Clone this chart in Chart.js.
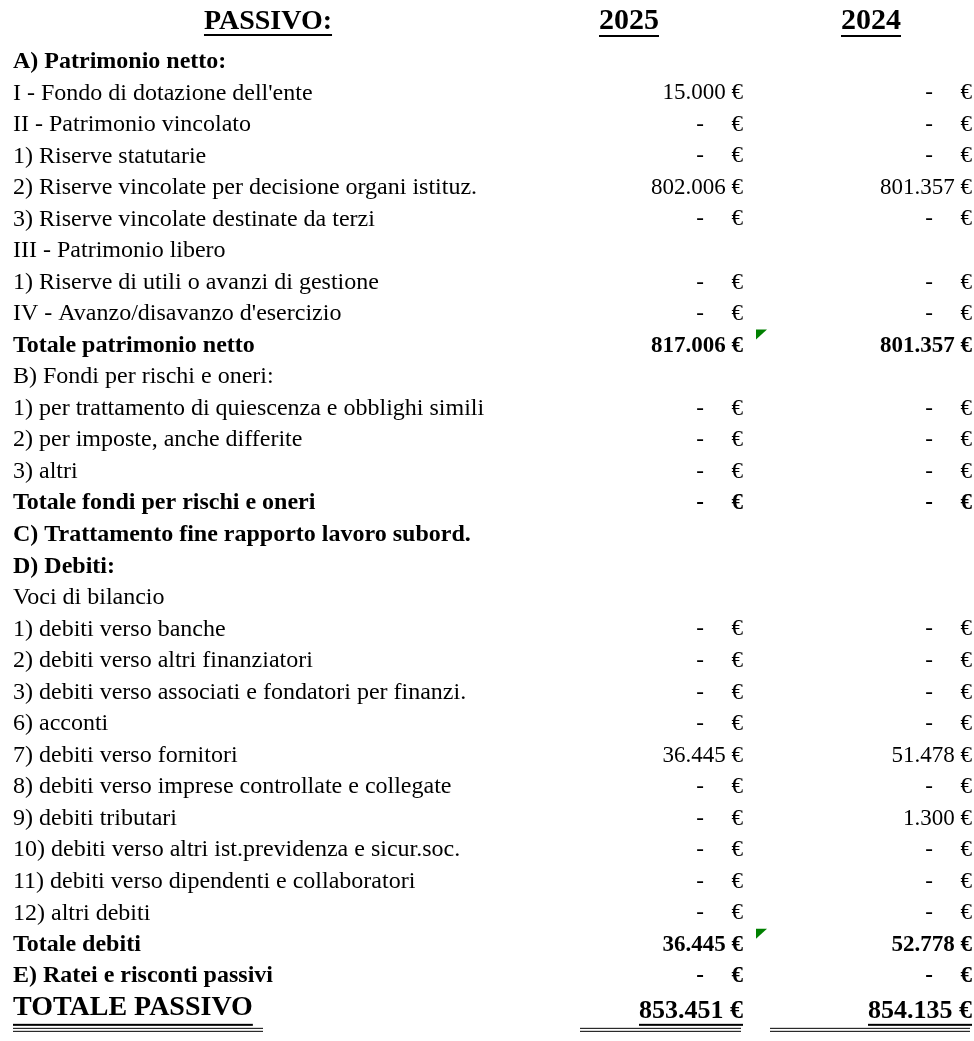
<!DOCTYPE html>
<html>
<head>
<meta charset="utf-8">
<script src="https://cdn.jsdelivr.net/npm/chart.js@4.4.0/dist/chart.umd.min.js"></script>
<style>
    html, body { margin: 0; padding: 0; background: #ffffff; }
    canvas { display: block; }
</style>
</head>
<body>
<canvas id="passivoChart" width="974" height="1041"></canvas>
<script>
var sheetTitle = 'PASSIVO:';
var years = ['2025', '2024'];

var rowLabels = [
    'A) Patrimonio netto:',
    'I - Fondo di dotazione dell\'ente',
    'II - Patrimonio vincolato',
    '1) Riserve statutarie',
    '2) Riserve vincolate per decisione organi istituz.',
    '3) Riserve vincolate destinate da terzi',
    'III - Patrimonio libero',
    '1) Riserve di utili o avanzi di gestione',
    'IV - Avanzo/disavanzo d\'esercizio',
    'Totale patrimonio netto',
    'B) Fondi per rischi e oneri:',
    '1) per trattamento di quiescenza e obblighi simili',
    '2) per imposte, anche differite',
    '3) altri',
    'Totale fondi per rischi e oneri',
    'C) Trattamento fine rapporto lavoro subord.',
    'D) Debiti:',
    'Voci di bilancio',
    '1) debiti verso banche',
    '2) debiti verso altri finanziatori',
    '3) debiti verso associati e fondatori per finanzi.',
    '6) acconti',
    '7) debiti verso fornitori',
    '8) debiti verso imprese controllate e collegate',
    '9) debiti tributari',
    '10) debiti verso altri ist.previdenza e sicur.soc.',
    '11) debiti verso dipendenti e collaboratori',
    '12) altri debiti',
    'Totale debiti',
    'E) Ratei e risconti passivi',
    'TOTALE PASSIVO'
];

// null = empty cell, 0 = "-  €"
var values2025 = [null, 15000, 0, 0, 802006, 0, null, 0, 0, 817006,
    null, 0, 0, 0, 0, null, null, null,
    0, 0, 0, 0, 36445, 0, 0, 0, 0, 0, 36445, 0, 853451];
var values2024 = [null, 0, 0, 0, 801357, 0, null, 0, 0, 801357,
    null, 0, 0, 0, 0, null, null, null,
    0, 0, 0, 0, 51478, 0, 1300, 0, 0, 0, 52778, 0, 854135];

var boldRows = ['A) Patrimonio netto:', 'Totale patrimonio netto', 'Totale fondi per rischi e oneri',
    'C) Trattamento fine rapporto lavoro subord.', 'D) Debiti:', 'Totale debiti',
    'E) Ratei e risconti passivi', 'TOTALE PASSIVO'];
var commentRows = ['Totale patrimonio netto', 'Totale debiti'];
var grandTotalRow = 'TOTALE PASSIVO';

var FONT = "'Liberation Serif', 'Times New Roman', serif";
var valueRight = [114, 101];   // right edge of the value cells, from the column anchor
var dashOffset = 43;

function formatEuro(v) {
    return String(v).replace(/\B(?=(\d{3})+(?!\d))/g, '.') + ' \u20AC';
}

function valueFont(label) {
    if (label === grandTotalRow) return 'bold 26px ' + FONT;
    return (boldRows.includes(label) ? 'bold ' : '') + '23px ' + FONT;
}

function buildPoints(values, year) {
    var points = [];
    for (var i = 0; i < values.length; i++) {
        if (values[i] !== null) {
            points.push({ x: year, y: rowLabels[i], v: values[i] });
        }
    }
    return points;
}

function underline(ctx, x1, x2, y, w) {
    ctx.fillRect(x1, y, x2 - x1, w);
}

// Draws the cell texts, the underlines and the comment markers
var cellsPlugin = {
    id: 'cells',
    afterDraw: function(chart) {
        var ctx = chart.ctx;
        var xScale = chart.scales.x;
        var yScale = chart.scales.y;
        ctx.save();
        ctx.fillStyle = '#000000';

        // sheet title
        ctx.font = 'bold 28px ' + FONT;
        ctx.textAlign = 'center';
        ctx.textBaseline = 'middle';
        ctx.fillText(sheetTitle, 268, 22);
        var tw = ctx.measureText(sheetTitle).width;
        underline(ctx, 268 - tw / 2, 268 + tw / 2, 34, 2);

        // year headers underline
        ctx.font = 'bold 30px ' + FONT;
        years.forEach(function(y, i) {
            var px = xScale.getPixelForValue(i);
            var w = ctx.measureText(y).width;
            underline(ctx, px - w / 2, px + w / 2, 35, 2);
        });

        chart.data.datasets.forEach(function(ds, d) {
            var meta = chart.getDatasetMeta(d);
            meta.data.forEach(function(pt, i) {
                var raw = ds.data[i];
                var right = pt.x + valueRight[d];
                var isGrand = raw.y === grandTotalRow;
                var cy = isGrand ? pt.y + 3 : pt.y;
                ctx.font = valueFont(raw.y);
                ctx.textBaseline = 'middle';
                if (raw.v === 0) {
                    ctx.textAlign = 'right';
                    ctx.fillText('\u20AC', right, cy);
                    ctx.textAlign = 'center';
                    ctx.fillText('-', right - dashOffset, cy);
                } else {
                    ctx.textAlign = 'right';
                    var txt = formatEuro(raw.v);
                    ctx.fillText(txt, right, cy);
                    if (isGrand) {
                        var w = ctx.measureText(txt).width;
                        underline(ctx, right - w, right, cy + 13, 2);
                    }
                }
                if (d === 0 && commentRows.includes(raw.y)) {
                    var top = pt.y - 16;
                    ctx.fillStyle = '#008000';
                    ctx.beginPath();
                    ctx.moveTo(right + 13, top);
                    ctx.lineTo(right + 24, top);
                    ctx.lineTo(right + 13, top + 10);
                    ctx.closePath();
                    ctx.fill();
                    ctx.fillStyle = '#000000';
                }
            });
        });

        // grand total: underline of the label and double borders
        var gy = yScale.getPixelForValue(rowLabels.indexOf(grandTotalRow));
        ctx.font = 'bold 28px ' + FONT;
        var lw = ctx.measureText(grandTotalRow).width;
        underline(ctx, 13, 13 + lw, gy + 16, 2);
        var borders = [[13, 263], [580, 741], [770, 970]];
        borders.forEach(function(b) {
            underline(ctx, b[0], b[1], gy + 20, 1);
            underline(ctx, b[0], b[1], gy + 23, 1);
        });
        ctx.restore();
    }
};

var chartConfig = {
    type: 'line',
    data: {
        datasets: [
            { label: years[0], data: buildPoints(values2025, years[0]) },
            { label: years[1], data: buildPoints(values2024, years[1]) }
        ]
    },
    options: {
        responsive: false,
        animation: false,
        events: [],
        devicePixelRatio: 1,
        layout: { padding: { left: 13, right: 103, top: 0, bottom: 9 } },
        elements: { point: { radius: 0 } },
        datasets: { line: { showLine: false } },
        plugins: {
            legend: { display: false },
            tooltip: { enabled: false }
        },
        scales: {
            x: {
                type: 'category',
                labels: years,
                position: 'top',
                offset: false,
                grid: { display: false, drawTicks: false },
                border: { display: false },
                ticks: {
                    color: '#000000',
                    padding: 7,
                    font: { family: FONT, size: 30, weight: 'bold', lineHeight: 1.2 }
                },
                afterFit: function(scale) { scale.height = 46; }
            },
            y: {
                type: 'category',
                labels: rowLabels,
                offset: true,
                grid: { display: false, drawTicks: false },
                border: { display: false },
                ticks: {
                    color: '#000000',
                    autoSkip: false,
                    crossAlign: 'far',
                    font: function(c) {
                        var label = rowLabels[c.index];
                        return {
                            family: FONT,
                            size: label === grandTotalRow ? 28 : 24,
                            weight: boldRows.includes(label) ? 'bold' : 'normal'
                        };
                    }
                },
                afterFit: function(scale) { scale.width = 616; }
            }
        }
    },
    plugins: [cellsPlugin]
};

const ctx = document.getElementById('passivoChart').getContext('2d');
const mainChart = new Chart(ctx, chartConfig);
</script>
</body>
</html>
